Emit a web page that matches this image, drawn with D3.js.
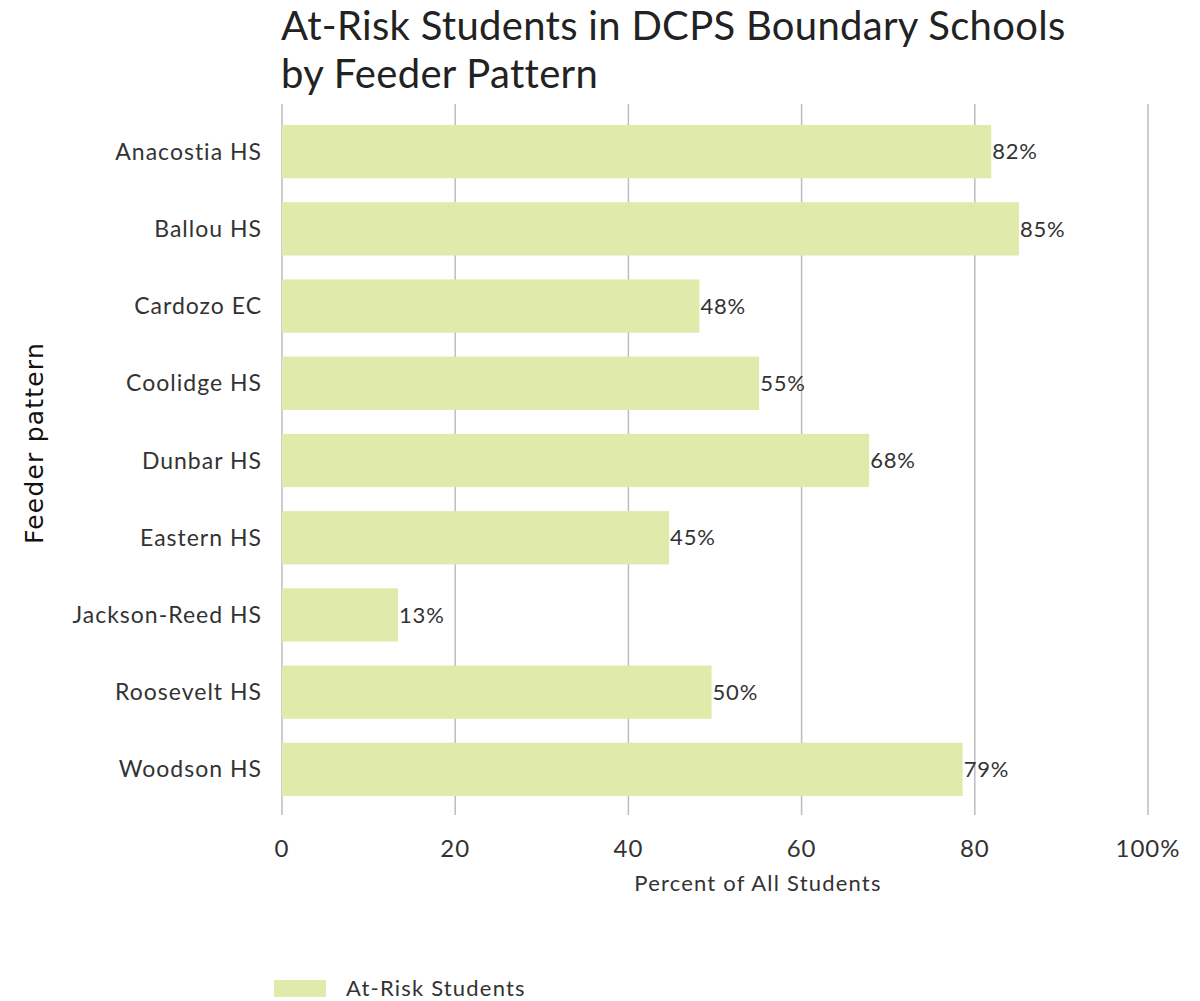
<!DOCTYPE html>
<html>
<head>
<meta charset="utf-8">
<script src="https://cdn.jsdelivr.net/npm/d3@7"></script>
<style>
  body { margin: 0; background: #fff; }
  svg text { font-family: Lato, "Open Sans", sans-serif; fill: #333; }
</style>
</head>
<body>
<div id="chart"></div>
<script>
// data
var schools = ["Anacostia HS", "Ballou HS", "Cardozo EC", "Coolidge HS", "Dunbar HS",
               "Eastern HS", "Jackson-Reed HS", "Roosevelt HS", "Woodson HS"];
var atRisk  = [81.9, 85.1, 48.2, 55.1, 67.8, 44.7, 13.4, 49.6, 78.6];
var xTicks  = [0, 20, 40, 60, 80, 100];

var width = 1200, height = 1001;
var plot = {left: 282, right: 1148, top: 113, bottom: 808};
var barColor = "#e0eaab";

var svg = d3.select("#chart").append("svg")
    .attr("width", width)
    .attr("height", height);

var x = d3.scaleLinear().domain([0, 100]).range([plot.left, plot.right]);
var y = d3.scaleBand().domain(schools).range([plot.top, plot.bottom]).paddingInner(0.31).paddingOuter(0.155);

// gridlines (extend a bit below the bars like tick marks)
svg.append("g").selectAll("line")
    .data(xTicks)
    .enter().append("line")
    .attr("x1", d => x(d)).attr("x2", d => x(d))
    .attr("y1", 104).attr("y2", 815)
    .attr("stroke", "#bdbdbd")
    .attr("stroke-width", 1.5);

// bars
var rows = svg.append("g").selectAll(".row")
    .data(schools)
    .enter().append("g")
    .attr("class", "row");

rows.append("rect")
    .attr("x", x(0))
    .attr("y", d => y(d))
    .attr("width", (d, i) => x(atRisk[i]) - x(0))
    .attr("height", y.bandwidth())
    .attr("fill", barColor);

rows.append("text")
    .attr("x", (d, i) => x(atRisk[i]) + 1)
    .attr("y", d => y(d) + y.bandwidth() / 2)
    .attr("dy", "0.35em")
    .attr("font-size", 22)
    .attr("letter-spacing", 0.8)
    .text((d, i) => Math.round(atRisk[i]) + "%");

// category labels
svg.append("g").selectAll("text")
    .data(schools)
    .enter().append("text")
    .attr("x", 262)
    .attr("y", d => y(d) + y.bandwidth() / 2)
    .attr("dy", "0.35em")
    .attr("text-anchor", "end")
    .attr("font-size", 23)
    .attr("letter-spacing", 1)
    .text(d => d);

// x tick labels
svg.append("g").selectAll("text")
    .data(xTicks)
    .enter().append("text")
    .attr("x", d => x(d))
    .attr("y", 857)
    .attr("text-anchor", "middle")
    .attr("font-size", 24)
    .attr("letter-spacing", 1)
    .text(d => d === 100 ? "100%" : d);

svg.append("text")
    .attr("x", 758)
    .attr("y", 891)
    .attr("text-anchor", "middle")
    .attr("font-size", 22)
    .attr("letter-spacing", 1.2)
    .text("Percent of All Students");

// y axis title
svg.append("text")
    .attr("transform", "translate(43,443) rotate(-90)")
    .attr("text-anchor", "middle")
    .attr("font-size", 25)
    .attr("letter-spacing", 1.2)
    .style("font-family", "'DejaVu Sans', sans-serif")
    .style("fill", "#111")
    .text("Feeder pattern");

// title
var title = svg.append("text")
    .attr("x", 281)
    .attr("font-size", 40)
    .attr("letter-spacing", 0.3)
    .style("fill", "#222");
title.append("tspan").attr("x", 281).attr("y", 40).text("At-Risk Students in DCPS Boundary Schools");
title.append("tspan").attr("x", 281).attr("y", 88).text("by Feeder Pattern");

// legend
svg.append("rect")
    .attr("x", 274).attr("y", 980)
    .attr("width", 52).attr("height", 17)
    .attr("fill", barColor);
svg.append("text")
    .attr("x", 346).attr("y", 996)
    .attr("font-size", 22)
    .attr("letter-spacing", 1.2)
    .text("At-Risk Students");
</script>
</body>
</html>
